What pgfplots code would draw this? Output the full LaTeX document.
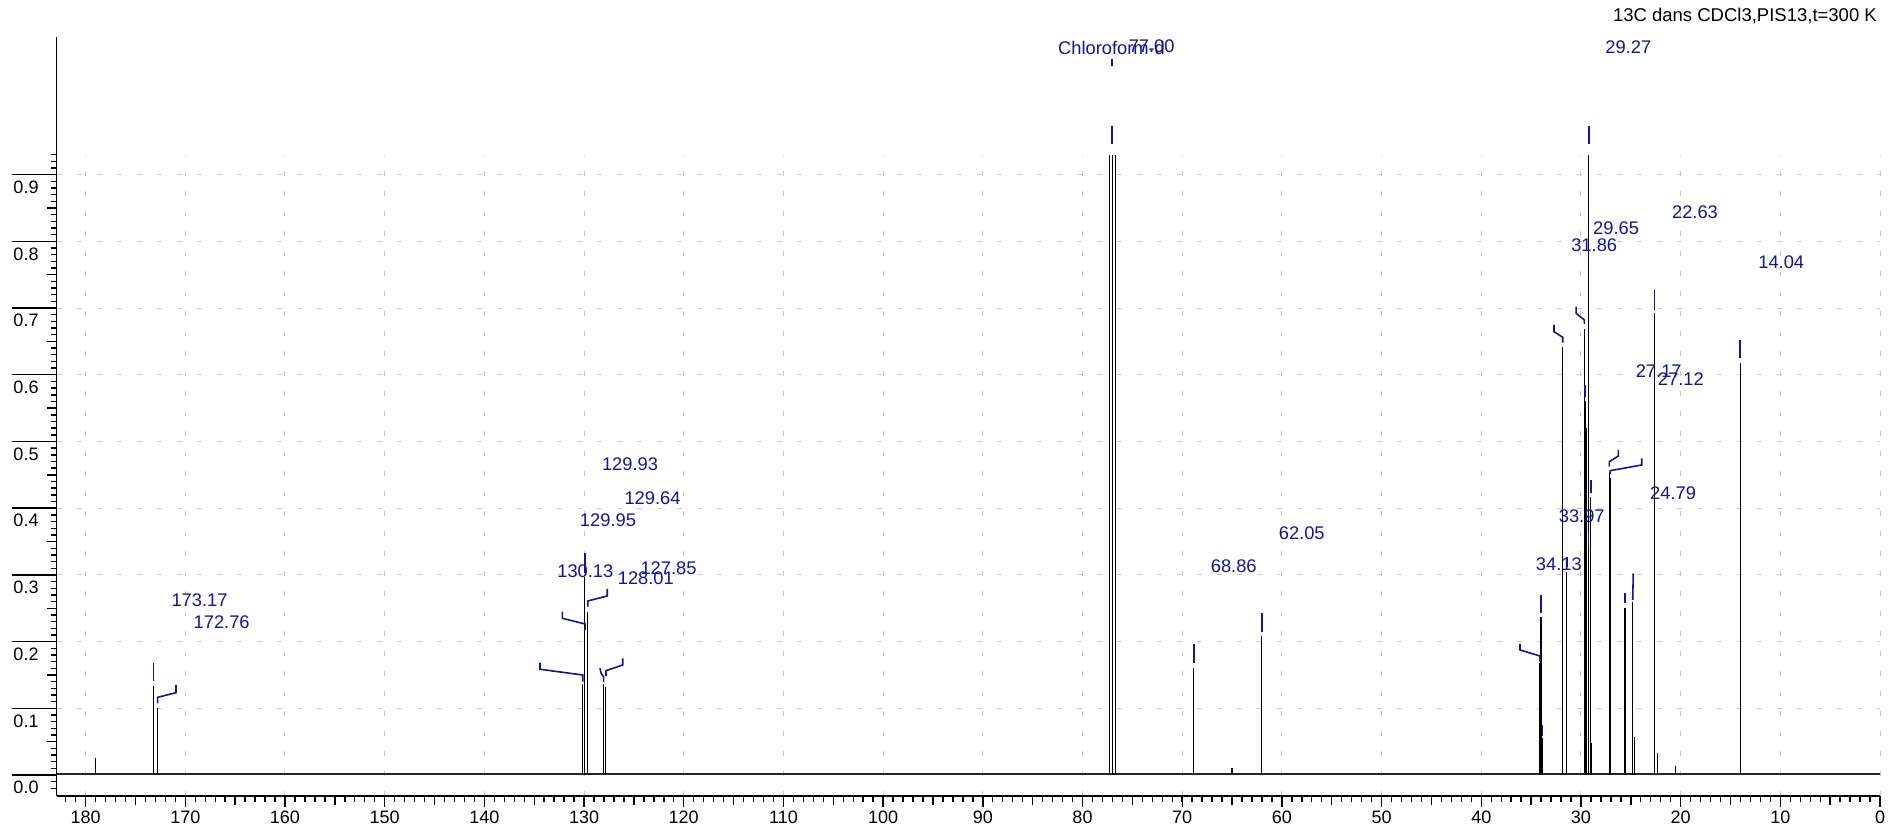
\documentclass[border=0pt]{standalone}
\usepackage{pgfplots}
\pgfplotsset{compat=1.18}
\usepackage{fontspec}
\setmainfont{Liberation Sans}
\definecolor{lblue}{RGB}{20,20,150}
\definecolor{gridgray}{RGB}{200,200,200}
\begin{document}
\begin{tikzpicture}[x=1pt,y=1pt,
  ld/.style={lblue, line width=1.6pt},
  lb/.style={font=\fontsize{18.3}{20}\selectfont, text=lblue, inner sep=0pt, anchor=center}]
\useasboundingbox (0,0) rectangle (1903,832);
% medium ticks (every 5 ppm and every 0.05)
\begin{axis}[
  at={(56.7pt,36pt)}, anchor=south west,
  scale only axis, width=1823.3pt, height=641.3pt,
  xmin=-182.9, xmax=0, ymin=-0.0315, ymax=0.93,
  axis x line*=bottom, axis y line*=left,
  axis line style={draw=none},
  tick align=outside,
  xtick={-175,-165,-155,-145,-135,-125,-115,-105,-95,-85,-75,-65,-55,-45,-35,-25,-15,-5},
  ytick={0.05,0.15,0.25,0.35,0.45,0.55,0.65,0.75,0.85},
  xticklabels={}, yticklabels={},
  major tick length=9.5pt,
  tick style={black, line width=1.4pt},
]
\addplot[draw=none] coordinates {(-100,0.1)};
\end{axis}
\begin{axis}[
  at={(56.7pt,36pt)}, anchor=south west,
  scale only axis, width=1823.3pt, height=641.3pt,
  xmin=-182.9, xmax=0, ymin=-0.0315, ymax=0.93,
  axis x line*=bottom, axis y line*=left,
  axis line style={line width=1.6pt, black},
  tick align=outside,
  xtick={-180,-170,-160,-150,-140,-130,-120,-110,-100,-90,-80,-70,-60,-50,-40,-30,-20,-10,0},
  xticklabels={180,170,160,150,140,130,120,110,100,90,80,70,60,50,40,30,20,10,0},
  ytick={0,0.1,0.2,0.3,0.4,0.5,0.6,0.7,0.8,0.9},
  yticklabels={0.0,0.1,0.2,0.3,0.4,0.5,0.6,0.7,0.8,0.9},
  minor xtick={-182,-181,...,0},
  minor ytick={-0.02,-0.01,...,0.93},
  major tick length=11pt, minor tick length=6pt,
  tick style={black, line width=1.4pt},
  ytick style={/pgfplots/major tick length=45pt},
  grid=major,
  major grid style={gridgray, line width=1pt, dash pattern=on 5pt off 15pt},
  tick label style={font=\fontsize{18}{20}\selectfont},
  yticklabel style={anchor=north west, inner sep=0pt, yshift=-6pt, xshift=-32.4pt},
  clip=false,
]
% baseline
\addplot[black!85, line width=2.2pt] coordinates {(-182.9,0.002) (0,0.002)};
% peaks (ppm as negative x, intensity)
\addplot[ycomb, black, line width=1.1pt] coordinates {
(-179.05,0.025)
(-173.17,0.134)
(-172.76,0.100)
(-130.13,0.137)
(-129.95,0.297)
(-129.93,0.212)
(-129.64,0.245)
(-128.01,0.136)
(-127.85,0.132)
(-77.32,0.93)
(-77.00,0.93)
(-76.68,0.93)
(-68.86,0.161)
(-65.0,0.010)
(-62.05,0.208)
(-34.11,0.168)
(-34.01,0.237)
(-33.84,0.055)
(-31.86,0.642)
(-31.43,0.305)
(-29.66,0.668)
(-29.59,0.56)
(-29.49,0.52)
(-29.27,0.93)
(-29.22,0.34)
(-29.02,0.417)
(-28.92,0.048)
(-27.15,0.455)
(-27.08,0.445)
(-25.58,0.25)
(-24.81,0.26)
(-24.65,0.057)
(-22.64,0.692)
(-22.30,0.033)
(-20.5,0.013)
(-14.04,0.617)
};
% y axis line continues above the plot area
\draw[black, line width=1.6pt] (axis cs:-182.9,0.92) -- (axis cs:-182.9,1.1064);
% leaders
\draw[ld] (axis cs:-173.17,0.1684) -- (axis cs:-173.17,0.1414);
\draw[ld] (axis cs:-170.93,0.1349) -- (axis cs:-170.93,0.1234) -- (axis cs:-172.77,0.1165) -- (axis cs:-172.77,0.1075);
\draw[ld] (axis cs:-129.93,0.3324) -- (axis cs:-129.93,0.3024);
\draw[ld] (axis cs:-127.67,0.2789) -- (axis cs:-127.67,0.2684) -- (axis cs:-129.63,0.2609) -- (axis cs:-129.63,0.2523);
\draw[ld] (axis cs:-132.18,0.2448) -- (axis cs:-132.18,0.2349) -- (axis cs:-129.90,0.2264) -- (axis cs:-129.90,0.2174);
\draw[ld] (axis cs:-134.42,0.1684) -- (axis cs:-134.42,0.1585) -- (axis cs:-130.13,0.1499) -- (axis cs:-130.13,0.1399);
\draw[ld] (axis cs:-128.40,0.1604) -- (axis cs:-128.30,0.1529) -- (axis cs:-128.03,0.1469) -- (axis cs:-128.03,0.1394);
\draw[ld] (axis cs:-126.12,0.1750) -- (axis cs:-126.12,0.1649) -- (axis cs:-127.80,0.1564) -- (axis cs:-127.80,0.1484);
\draw[ld] (axis cs:-77.04,1.0730) -- (axis cs:-77.04,1.0630);
\draw[ld] (axis cs:-77.04,0.9735) -- (axis cs:-77.04,0.9456);
\draw[ld] (axis cs:-68.84,0.1964) -- (axis cs:-68.84,0.1684);
\draw[ld] (axis cs:-61.99,0.2424) -- (axis cs:-61.99,0.2148);
\draw[ld] (axis cs:-29.22,0.9735) -- (axis cs:-29.22,0.9460);
\draw[ld] (axis cs:-22.64,0.7271) -- (axis cs:-22.64,0.6972);
\draw[ld] (axis cs:-32.70,0.6747) -- (axis cs:-32.70,0.6646) -- (axis cs:-31.83,0.6562) -- (axis cs:-31.83,0.6481);
\draw[ld] (axis cs:-30.49,0.7021) -- (axis cs:-30.49,0.6922) -- (axis cs:-29.66,0.6822) -- (axis cs:-29.66,0.6762);
\draw[ld] (axis cs:-29.59,0.5847) -- (axis cs:-29.59,0.5663);
\draw[ld] (axis cs:-29.02,0.4423) -- (axis cs:-29.02,0.4232);
\draw[ld] (axis cs:-29.26,0.3624) -- (axis cs:-29.26,0.3433);
\draw[ld] (axis cs:-31.43,0.3273) -- (axis cs:-31.43,0.3123);
\draw[ld] (axis cs:-34.01,0.2699) -- (axis cs:-34.01,0.2424);
\draw[ld] (axis cs:-36.11,0.1964) -- (axis cs:-36.11,0.1874) -- (axis cs:-34.11,0.1784) -- (axis cs:-34.11,0.1699);
\draw[ld] (axis cs:-33.84,0.0750) -- (axis cs:-33.84,0.0585);
\draw[ld] (axis cs:-26.25,0.4873) -- (axis cs:-26.25,0.4783) -- (axis cs:-27.15,0.4697) -- (axis cs:-27.15,0.4622);
\draw[ld] (axis cs:-23.90,0.4748) -- (axis cs:-23.90,0.4648) -- (axis cs:-27.08,0.4562) -- (axis cs:-27.08,0.4513);
\draw[ld] (axis cs:-25.58,0.2733) -- (axis cs:-25.58,0.2574);
\draw[ld] (axis cs:-24.75,0.3024) -- (axis cs:-24.81,0.2624);
\draw[ld] (axis cs:-14.04,0.6522) -- (axis cs:-14.04,0.6247);
% peak labels
\node[lb] at (axis cs:-168.57,0.2624) {173.17};
\node[lb] at (axis cs:-166.35,0.2298) {172.76};
\node[lb] at (axis cs:-125.39,0.4663) {129.93};
\node[lb] at (axis cs:-123.13,0.4148) {129.64};
\node[lb] at (axis cs:-127.60,0.3813) {129.95};
\node[lb] at (axis cs:-129.87,0.3048) {130.13};
\node[lb] at (axis cs:-123.80,0.2949) {128.01};
\node[lb] at (axis cs:-121.53,0.3099) {127.85};
\node[lb] at (axis cs:-77.09,1.0895) {Chloroform-d};
\node[lb] at (axis cs:-73.06,1.0930) {77.00};
\node[lb] at (axis cs:-64.83,0.3133) {68.86};
\node[lb] at (axis cs:-58.01,0.3624) {62.05};
\node[lb] at (axis cs:-25.25,1.0919) {29.27};
\node[lb] at (axis cs:-18.56,0.8445) {22.63};
\node[lb] at (axis cs:-26.48,0.8196) {29.65};
\node[lb] at (axis cs:-28.67,0.7936) {31.86};
\node[lb] at (axis cs:-9.91,0.7687) {14.04};
\node[lb] at (axis cs:-22.20,0.6061) {27.17};
\node[lb] at (axis cs:-19.98,0.5937) {27.12};
\node[lb] at (axis cs:-20.76,0.4223) {24.79};
\node[lb] at (axis cs:-29.92,0.3883) {33.97};
\node[lb] at (axis cs:-32.22,0.3159) {34.13};
% title
\node[anchor=east, inner sep=0pt, font=\fontsize{18.5}{20}\selectfont] at (axis cs:-0.30,1.138) {13C dans CDCl3,PIS13,t=300 K};
\end{axis}
\end{tikzpicture}
\end{document}
